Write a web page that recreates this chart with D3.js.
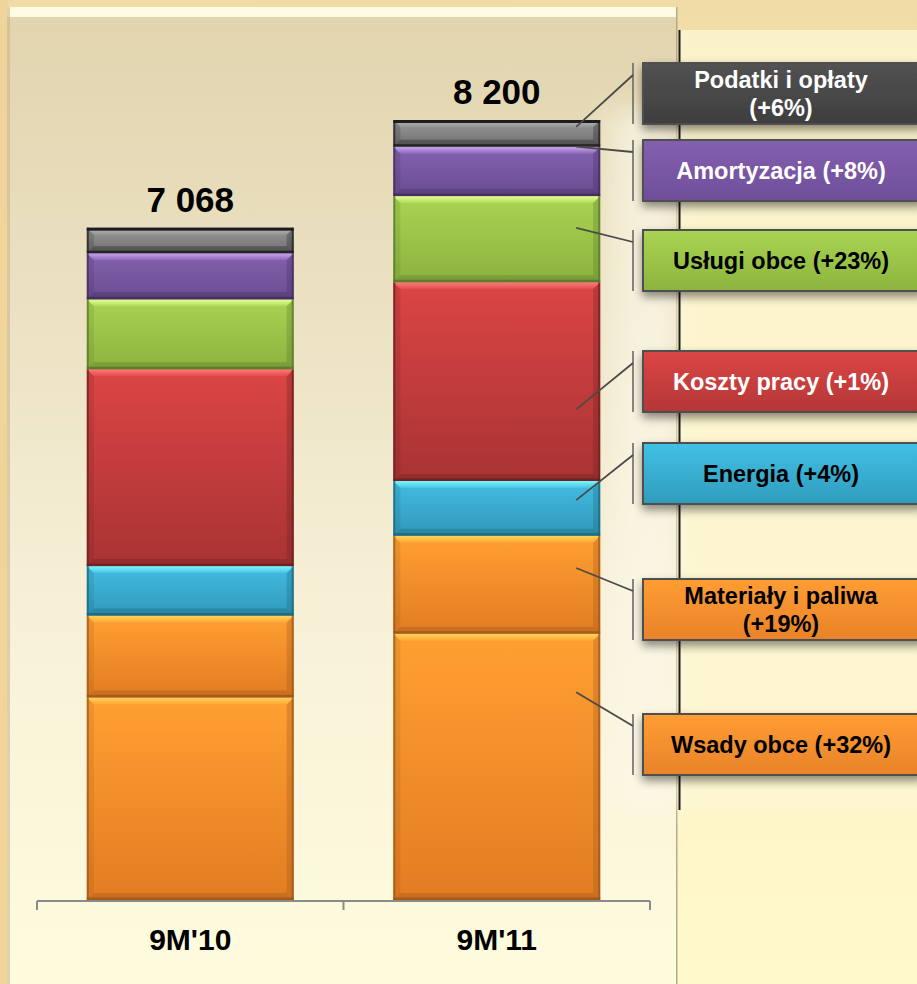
<!DOCTYPE html>
<html>
<head>
<meta charset="utf-8">
<script src="https://cdn.jsdelivr.net/npm/d3@7/dist/d3.min.js"></script>
<style>
html,body{margin:0;padding:0;background:#f3dca6;}
svg{display:block;font-family:"Liberation Sans",Arial,sans-serif;}
</style>
</head>
<body>
<svg id="chart" width="917" height="984"></svg>
<script>
// ---------- data ----------
const categories = ["9M'10", "9M'11"];
const seriesNames = ["Wsady obce", "Materiały i paliwa", "Energia", "Koszty pracy", "Usługi obce", "Amortyzacja", "Podatki i opłaty"];
const values9M10 = [2130, 860, 520, 2070, 735, 485, 268];
const values9M11 = [2800, 1030, 575, 2090, 905, 520, 280];
const totals = [7068, 8200];
const changeLabels = ["+32%", "+19%", "+4%", "+1%", "+23%", "+8%", "+6%"];
const totalLabels = ["7 068", "8 200"];

// ---------- styles / layout ----------
const palette = [
  {top:"#ffa032", bot:"#e27c22", hi:"#ffd45a", dark:"#9a561c", text:"#000"},
  {top:"#ffa032", bot:"#e27c22", hi:"#ffd45a", dark:"#9a561c", text:"#000"},
  {top:"#42bde2", bot:"#3198ba", hi:"#78f6ff", dark:"#1d6478", text:"#000"},
  {top:"#dc4545", bot:"#a93333", hi:"#ff7a7a", dark:"#6a2020", text:"#fff"},
  {top:"#a9d453", bot:"#8db23e", hi:"#e4ff94", dark:"#56752a", text:"#000"},
  {top:"#8462ae", bot:"#6a4c92", hi:"#cba4f2", dark:"#402c5a", text:"#fff"},
  {top:"#9a9a9a", bot:"#6e6e6e", hi:"#b4b4b4", dark:"#1c1c1c", text:"#fff"}
];
const boxFill = [
  ["#ff9d33","#e8832a"],["#ff9d33","#e8832a"],["#42c0e6","#2f9cbc"],
  ["#dc4646","#b43636"],["#a9d452","#8cb43e"],["#8460b0","#6e4e98"],["#525252","#3e3e3e"]
];
const twoLine = [false, true, false, false, false, false, true];
const calloutTop = [714, 579, 443, 351, 230, 140, 63];   // layout of the label boxes
const anchorFrac = [0.22, 0.33, 0.35, 0.64, 0.37, 0.0, 0.26]; // where leaders touch the 9M'11 bar

const W = 917, H = 984;
const svg = d3.select("#chart");
const defs = svg.append("defs");

// background gradients
const bgG = defs.append("linearGradient").attr("id","bgR").attr("x1",0).attr("y1",0).attr("x2",0).attr("y2",1);
bgG.append("stop").attr("offset",0).attr("stop-color","#f1dca6");
bgG.append("stop").attr("offset",0.5).attr("stop-color","#fbf0c4");
bgG.append("stop").attr("offset",1).attr("stop-color","#fff9cc");
const pG = defs.append("linearGradient").attr("id","panel").attr("x1",0).attr("y1",0).attr("x2",0).attr("y2",1);
pG.append("stop").attr("offset",0).attr("stop-color","#e1d4ae");
pG.append("stop").attr("offset",0.3).attr("stop-color","#ebe1c2");
pG.append("stop").attr("offset",0.6).attr("stop-color","#f7f0d7");
pG.append("stop").attr("offset",1).attr("stop-color","#fffcde");
const stripG = defs.append("linearGradient").attr("id","strip").attr("x1",0).attr("y1",0).attr("x2",1).attr("y2",0);
stripG.append("stop").attr("offset",0).attr("stop-color","#fbf7e6").attr("stop-opacity",0);
stripG.append("stop").attr("offset",0.4).attr("stop-color","#fbf7e6").attr("stop-opacity",0.7);
stripG.append("stop").attr("offset",1).attr("stop-color","#fbf7e6").attr("stop-opacity",0.8);
const blur = defs.append("filter").attr("id","soft").attr("x","-20%").attr("y","-20%").attr("width","140%").attr("height","140%");
blur.append("feGaussianBlur").attr("stdDeviation",12);

const sh = defs.append("filter").attr("id","shadow").attr("x","-10%").attr("y","-30%").attr("width","130%").attr("height","180%");
sh.append("feGaussianBlur").attr("in","SourceAlpha").attr("stdDeviation",5);
sh.append("feOffset").attr("dx",0).attr("dy",5).attr("result","b");
sh.append("feComponentTransfer").append("feFuncA").attr("type","linear").attr("slope",0.45);
const mg = sh.append("feMerge"); mg.append("feMergeNode"); mg.append("feMergeNode").attr("in","SourceGraphic");

svg.append("rect").attr("width",W).attr("height",H).attr("fill","url(#bgR)");
svg.append("rect").attr("x",0).attr("y",0).attr("width",8).attr("height",H).attr("fill","#f0d49a");
// right inner area
svg.append("rect").attr("x",680).attr("y",30).attr("width",237).attr("height",780).attr("fill","#fcf6d2").attr("opacity",0.8);
// main panel
svg.append("rect").attr("x",7).attr("y",7).attr("width",670).attr("height",H).attr("fill","url(#panel)");
svg.append("rect").attr("x",7).attr("y",7).attr("width",670).attr("height",10).attr("fill","#fffbe2");
svg.append("rect").attr("x",7).attr("y",7).attr("width",3).attr("height",H).attr("fill","#c9b88c").attr("opacity",0.6);
svg.append("rect").attr("x",676).attr("y",7).attr("width",1.5).attr("height",H).attr("fill","#b8aa88");
svg.append("rect").attr("x",590).attr("y",110).attr("width",87).attr("height",700).attr("fill","url(#strip)").attr("filter","url(#soft)");
svg.append("line").attr("x1",679.5).attr("x2",679.5).attr("y1",30).attr("y2",810).attr("stroke","#1c1c1c").attr("stroke-width",2);

// ---------- scales ----------
const x = d3.scaleBand().domain(categories).range([37, 650]).paddingInner(0.325).paddingOuter(0.1625);
const y = d3.scaleLinear().domain([0, 8200]).range([900, 120]);

const rows = categories.map((c, i) => {
  const vals = i === 0 ? values9M10 : values9M11;
  const o = {cat: c};
  seriesNames.forEach((s, j) => o[s] = vals[j]);
  return o;
});
const stacked = d3.stack().keys(seriesNames)(rows);

// gradients per series
palette.forEach((p, i) => {
  const g = defs.append("linearGradient").attr("id","seg"+i).attr("x1",0).attr("y1",0).attr("x2",0).attr("y2",1);
  g.append("stop").attr("offset",0).attr("stop-color",p.top);
  g.append("stop").attr("offset",1).attr("stop-color",p.bot);
  const h = defs.append("linearGradient").attr("id","hi"+i).attr("x1",0).attr("y1",0).attr("x2",0).attr("y2",1);
  h.append("stop").attr("offset",0).attr("stop-color",p.hi).attr("stop-opacity",1);
  h.append("stop").attr("offset",1).attr("stop-color",p.hi).attr("stop-opacity",0.15);
  const b = defs.append("linearGradient").attr("id","bx"+i).attr("x1",0).attr("y1",0).attr("x2",0).attr("y2",1);
  b.append("stop").attr("offset",0).attr("stop-color",boxFill[i][0]);
  b.append("stop").attr("offset",1).attr("stop-color",boxFill[i][1]);
});

// ---------- bars ----------
const barG = svg.append("g");
stacked.forEach((layer, si) => {
  const p = palette[si];
  layer.forEach(d => {
    const x0 = x(d.data.cat), w = x.bandwidth();
    const y0 = y(d[1]), h = y(d[0]) - y(d[1]);
    const b = Math.min(7, h / 3);
    const g = barG.append("g");
    g.append("rect").attr("x",x0).attr("y",y0).attr("width",w).attr("height",h).attr("fill","url(#seg"+si+")");
    g.append("polygon").attr("points",[[x0,y0],[x0+b,y0+b],[x0+b,y0+h-b],[x0,y0+h]].join(" "))
      .attr("fill",p.dark).attr("opacity",0.18);
    g.append("polygon").attr("points",[[x0+w,y0],[x0+w-b,y0+b],[x0+w-b,y0+h-b],[x0+w,y0+h]].join(" "))
      .attr("fill",p.dark).attr("opacity",0.3);
    g.append("polygon").attr("points",[[x0,y0+h],[x0+w,y0+h],[x0+w-b,y0+h-b],[x0+b,y0+h-b]].join(" "))
      .attr("fill",p.dark).attr("opacity",0.35);
    g.append("polygon").attr("points",[[x0,y0],[x0+w,y0],[x0+w-b,y0+b],[x0+b,y0+b]].join(" "))
      .attr("fill","url(#hi"+si+")");
    g.append("rect").attr("x",x0).attr("y",y0+h-2.5).attr("width",w).attr("height",2.5).attr("fill",p.dark).attr("opacity",0.8);
    g.append("rect").attr("x",x0).attr("y",y0).attr("width",2).attr("height",h).attr("fill",p.dark).attr("opacity",0.7);
    g.append("rect").attr("x",x0+w-2).attr("y",y0).attr("width",2).attr("height",h).attr("fill",p.dark).attr("opacity",0.7);
  });
});
categories.forEach((c, i) => {
  barG.append("rect").attr("x",x(c)).attr("y",y(totals[i])).attr("width",x.bandwidth()).attr("height",3).attr("fill","#1c1c1c");
});

// totals
svg.append("g").selectAll("text").data(categories).join("text")
  .attr("x", c => x(c) + x.bandwidth()/2)
  .attr("y", (c, i) => y(totals[i]) - 16)
  .attr("text-anchor","middle").attr("font-size",35).attr("font-weight","bold").attr("fill","#000")
  .text((c, i) => totalLabels[i]);

// ---------- axis ----------
const axisY = y(0) + 1;
const ax = svg.append("g").attr("stroke","#8a8a8a").attr("stroke-width",2);
const [r0, r1] = x.range();
ax.append("line").attr("x1",r0).attr("x2",r1).attr("y1",axisY).attr("y2",axisY);
d3.range(categories.length + 1).forEach(k => {
  const tx = r0 + k * x.step();
  ax.append("line").attr("x1",tx).attr("x2",tx).attr("y1",axisY).attr("y2",axisY+9);
});
svg.append("g").selectAll("text").data(categories).join("text")
  .attr("x", c => x(c) + x.bandwidth()/2).attr("y", 950)
  .attr("text-anchor","middle").attr("font-size",30).attr("font-weight","bold").attr("fill","#000")
  .text(c => c);

// ---------- callouts ----------
const last = categories[categories.length - 1];
const barRight = x(last) + x.bandwidth();
const boxX = 643, boxW = 280, boxH = 61, brX = 633;
const cg = svg.append("g");
seriesNames.forEach((s, i) => {
  const d = stacked[i][1];
  const top = calloutTop[i];
  const ay = y(d[1]) + anchorFrac[i] * (y(d[0]) - y(d[1]));
  const ax0 = barRight - 24;
  cg.append("line").attr("x1",brX).attr("x2",brX).attr("y1",top).attr("y2",top+boxH)
    .attr("stroke","#6a6a6a").attr("stroke-width",1.6);
  cg.append("line").attr("x1",ax0).attr("y1",ay).attr("x2",brX).attr("y2",top+12)
    .attr("stroke","#4a4a4a").attr("stroke-width",1.8);
  cg.append("rect").attr("x",boxX).attr("y",top).attr("width",boxW).attr("height",boxH)
    .attr("fill","url(#bx"+i+")").attr("stroke","#505050").attr("stroke-width",2).attr("filter","url(#shadow)");
  const lines = twoLine[i] ? [s, "(" + changeLabels[i] + ")"] : [s + " (" + changeLabels[i] + ")"];
  const t = cg.append("text").attr("text-anchor","middle").attr("font-size",23.5).attr("font-weight","bold")
    .attr("fill",palette[i].text);
  const cy = top + boxH/2;
  lines.forEach((ln, k) => {
    t.append("tspan").attr("x",781).attr("y", cy + 8.5 + (k - (lines.length-1)/2) * 28).text(ln);
  });
});
</script>
</body>
</html>
